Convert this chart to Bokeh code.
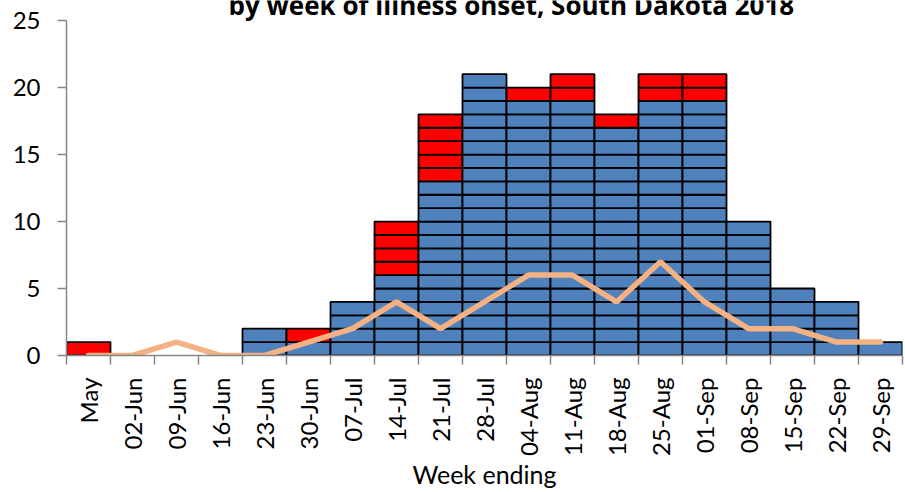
import math
from bokeh.plotting import figure
from bokeh.models import Range1d, FixedTicker, Label, ColumnDataSource
from bokeh.embed import file_html
from bokeh.resources import INLINE

weeks = ["May", "02-Jun", "09-Jun", "16-Jun", "23-Jun", "30-Jun", "07-Jul", "14-Jul",
         "21-Jul", "28-Jul", "04-Aug", "11-Aug", "18-Aug", "25-Aug", "01-Sep", "08-Sep",
         "15-Sep", "22-Sep", "29-Sep"]
blue_cases = [0, 0, 0, 0, 2, 1, 4, 6, 13, 21, 19, 19, 17, 19, 19, 10, 5, 4, 1]
red_cases = [1, 0, 0, 0, 0, 1, 0, 4, 5, 0, 1, 2, 1, 2, 2, 0, 0, 0, 0]
line_values = [0, 0, 1, 0, 0, 1, 2, 4, 2, 4, 6, 6, 4, 7, 4, 2, 2, 1, 1]
y_ticks = [0, 5, 10, 15, 20, 25]
y_axis_max = 25
title_text = "by week of illness onset, South Dakota 2018"
x_title = "Week ending"

BLUE = "#4f81bd"
RED = "#ff0000"
PEACH = "#f4b183"
AXIS_GRAY = "#868686"
FONT = "Lato"

n = len(weeks)
centers = [i + 0.5 for i in range(n)]

# one block per case
left, right, bottom, top, colors = [], [], [], [], []
for i in range(n):
    for k in range(blue_cases[i]):
        left.append(i); right.append(i + 1); bottom.append(k); top.append(k + 1); colors.append(BLUE)
    for k in range(blue_cases[i], blue_cases[i] + red_cases[i]):
        left.append(i); right.append(i + 1); bottom.append(k); top.append(k + 1); colors.append(RED)
blocks = ColumnDataSource(dict(left=left, right=right, bottom=bottom, top=top, color=colors))

# the frame reaches the top of the canvas so that the clipped title can sit inside it;
# the y axis itself stops at 25
p = figure(width=905, height=492, output_backend="svg", toolbar_location=None,
           x_range=Range1d(0, n), y_range=Range1d(0, 26.5),
           min_border_left=66, min_border_right=3, min_border_top=0, min_border_bottom=137)
p.outline_line_color = None
p.grid.visible = False
p.background_fill_color = "white"
p.border_fill_color = "white"

p.quad(left="left", right="right", bottom="bottom", top="top", source=blocks,
       fill_color="color", line_color="black", line_width=1.8)
p.line(centers, line_values, line_color=PEACH, line_width=5.5, line_cap="round")

# x axis: labels at centres, tick marks at boundaries
xa = p.xaxis[0]
xa.ticker = FixedTicker(ticks=centers, minor_ticks=list(range(n + 1)))
xa.major_label_overrides = {c: w for c, w in zip(centers, weeks)}
xa.major_label_orientation = math.pi / 2
xa.major_tick_out = 0
xa.major_tick_in = 0
xa.minor_tick_out = 9
xa.minor_tick_in = 0
xa.minor_tick_line_color = AXIS_GRAY
xa.minor_tick_line_width = 1.5
xa.axis_line_color = AXIS_GRAY
xa.axis_line_width = 1.5
xa.major_label_text_font = FONT
xa.major_label_text_font_size = "24px"
xa.major_label_text_color = "black"
xa.major_label_standoff = 13
xa.axis_label = x_title
xa.axis_label_text_font = FONT
xa.axis_label_text_font_size = "25px"
xa.axis_label_text_font_style = "normal"
xa.axis_label_text_color = "black"
xa.axis_label_standoff = 0

ya = p.yaxis[0]
ya.ticker = FixedTicker(ticks=y_ticks)
ya.bounds = (0, y_axis_max)
ya.minor_tick_line_color = None
ya.major_tick_out = 9
ya.major_tick_in = 0
ya.major_tick_line_color = AXIS_GRAY
ya.major_tick_line_width = 1.5
ya.axis_line_color = AXIS_GRAY
ya.axis_line_width = 1.5
ya.major_label_text_font = FONT
ya.major_label_text_font_size = "24px"
ya.major_label_text_color = "black"
ya.major_label_standoff = 17

# title, its upper part cut off by the top edge as in the source image
p.add_layout(Label(x=10.11, y=26.15, text=title_text, text_align="center",
                   text_baseline="alphabetic", text_font="Open Sans", text_font_style="bold",
                   text_font_size="26px", text_color="black"))

open("out.html", "w").write(file_html(p, INLINE))
